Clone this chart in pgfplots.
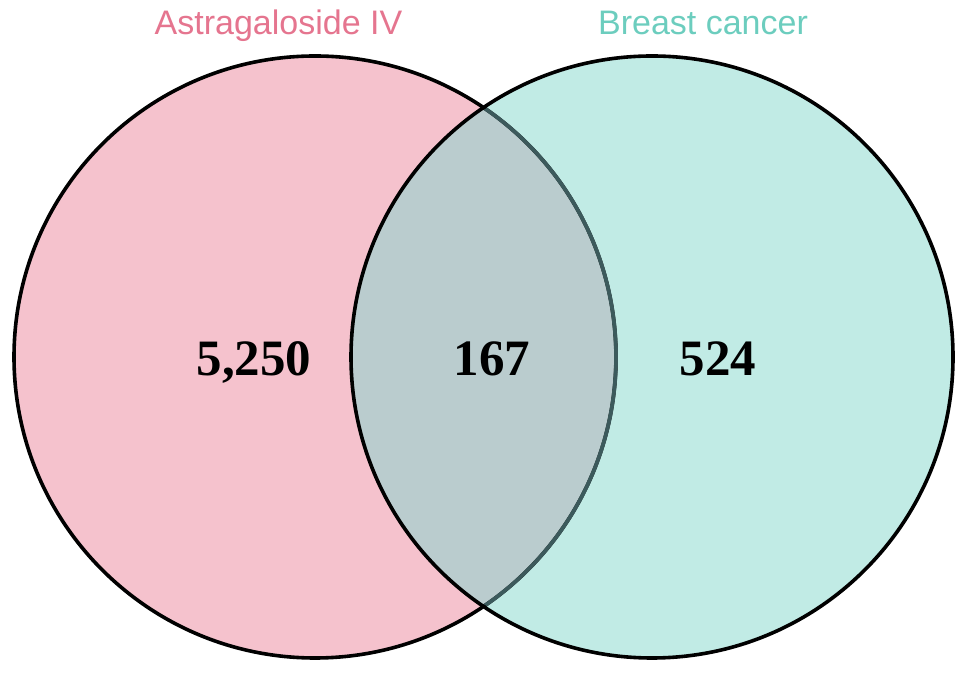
\documentclass[border=0pt]{standalone}
\usepackage{pgfplots}
\pgfplotsset{compat=1.18}
\usepackage{pgfplotstable}
\usepackage{fontspec}
\setmainfont{Liberation Sans}
\newfontfamily\numfont{Liberation Serif}
\definecolor{pinkfill}{HTML}{F5C2CD}
\definecolor{tealfill}{HTML}{C1EBE5}
\definecolor{overlapfill}{HTML}{BACCCE}
\definecolor{pinktext}{HTML}{E5758F}
\definecolor{tealtext}{HTML}{6CCDBE}
\definecolor{darkslate}{HTML}{3C5A5C}
\pgfplotstableread{
x y label
254 298 5,250
492 298 167
718 298 524
}\counts
\begin{document}
\begin{tikzpicture}
\begin{axis}[
  scale only axis, width=969bp, height=674bp,
  xmin=0, xmax=969, ymin=0, ymax=674,
  hide axis, clip=false,
]
\path (axis cs:0,0) rectangle (axis cs:969,674);
% circles
\fill[pinkfill] (axis cs:315,317) circle [radius=301];
\fill[tealfill] (axis cs:652,317) circle [radius=301];
\begin{scope}
  \clip (axis cs:652,317) circle [radius=301];
  \fill[overlapfill] (axis cs:315,317) circle [radius=301];
\end{scope}
\draw[black, line width=3.6bp] (axis cs:315,317) circle [radius=301];
\begin{scope}
  \clip (axis cs:652,317) circle [radius=299];
  \draw[darkslate, line width=3.8bp] (axis cs:315,317) circle [radius=301];
\end{scope}
\draw[black, line width=3.6bp] (axis cs:652,317) circle [radius=301];
% titles
\node[anchor=base, text=pinktext, font=\fontsize{34bp}{40bp}\selectfont] at (axis cs:278.5,639) {Astragaloside IV};
\node[anchor=base, text=tealtext, font=\fontsize{34bp}{40bp}\selectfont] at (axis cs:703,639) {Breast cancer};
% counts
\addplot[draw=none, mark=none, nodes near coords, point meta=explicit symbolic,
  every node near coord/.append style={anchor=base, inner sep=0pt, text=black,
    font=\numfont\bfseries\fontsize{51bp}{60bp}\selectfont}]
  table[x=x, y=y, meta=label] {\counts};
\end{axis}
\end{tikzpicture}
\end{document}
